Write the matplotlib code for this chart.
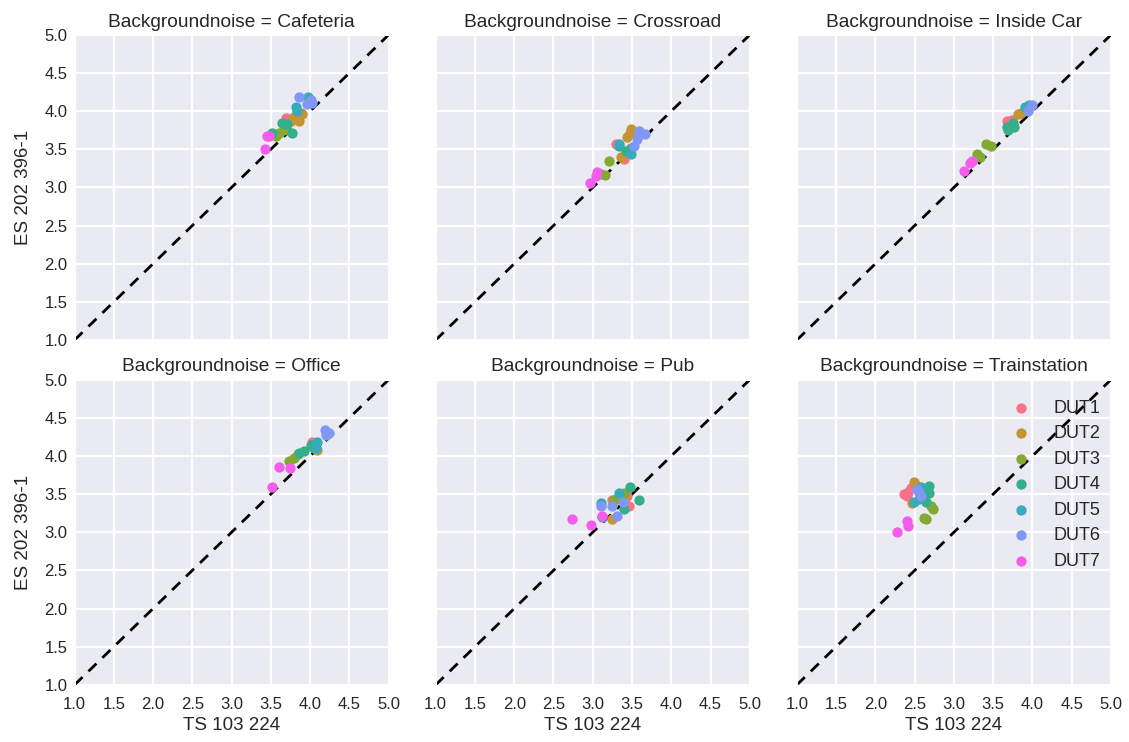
import matplotlib
matplotlib.use("Agg")
import matplotlib.pyplot as plt
import seaborn as sns

# ---- data (TS 103 224 vs ES 202 396-1) ----
noises = ["Cafeteria", "Crossroad", "Inside Car", "Office", "Pub", "Trainstation"]
duts = ["DUT1", "DUT2", "DUT3", "DUT4", "DUT5", "DUT6", "DUT7"]

cafeteria_ts = {
    "DUT1": [3.69, 3.72], "DUT2": [3.90, 3.79, 3.76, 3.86, 3.88],
    "DUT3": [3.60, 3.67, 3.56], "DUT4": [3.64, 3.71, 3.51, 3.77],
    "DUT5": [3.98, 3.82, 3.83], "DUT6": [3.86, 4.01, 3.96, 4.02],
    "DUT7": [3.45, 3.42, 3.48],
}
cafeteria_es = {
    "DUT1": [3.91, 3.86], "DUT2": [3.96, 3.93, 3.87, 3.87, 3.98],
    "DUT3": [3.72, 3.75, 3.68], "DUT4": [3.85, 3.83, 3.72, 3.71],
    "DUT5": [4.19, 4.05, 4.00], "DUT6": [4.18, 4.15, 4.09, 4.11],
    "DUT7": [3.68, 3.51, 3.68],
}
crossroad_ts = {
    "DUT1": [3.30, 3.40], "DUT2": [3.49, 3.44, 3.36, 3.47],
    "DUT3": [3.21, 3.11, 3.15], "DUT4": [3.34, 3.43, 3.49],
    "DUT5": [3.49, 3.33], "DUT6": [3.59, 3.66, 3.57, 3.53],
    "DUT7": [3.06, 3.04, 2.96],
}
crossroad_es = {
    "DUT1": [3.57, 3.37], "DUT2": [3.76, 3.66, 3.40, 3.72],
    "DUT3": [3.35, 3.18, 3.16], "DUT4": [3.54, 3.48, 3.52],
    "DUT5": [3.44, 3.57], "DUT6": [3.74, 3.70, 3.63, 3.54],
    "DUT7": [3.20, 3.15, 3.06],
}
insidecar_ts = {
    "DUT1": [3.68, 3.74], "DUT2": [3.81, 3.86],
    "DUT3": [3.29, 3.41, 3.47, 3.33], "DUT4": [3.68, 3.77, 3.75, 3.69],
    "DUT5": [3.90, 3.96], "DUT6": [3.94, 3.99],
    "DUT7": [3.13, 3.23, 3.21],
}
insidecar_es = {
    "DUT1": [3.87, 3.88], "DUT2": [3.96, 3.98],
    "DUT3": [3.44, 3.57, 3.54, 3.40], "DUT4": [3.79, 3.79, 3.84, 3.75],
    "DUT5": [4.05, 4.08], "DUT6": [4.00, 4.08],
    "DUT7": [3.22, 3.35, 3.32],
}
office_ts = {
    "DUT1": [4.02], "DUT2": [4.09, 4.05],
    "DUT3": [3.73, 3.79, 3.84], "DUT4": [3.86, 3.92, 4.01, 4.05],
    "DUT5": [4.09, 4.07], "DUT6": [4.19, 4.24, 4.20],
    "DUT7": [3.51, 3.60, 3.74],
}
office_es = {
    "DUT1": [4.19], "DUT2": [4.08, 4.12],
    "DUT3": [3.93, 3.97, 4.02], "DUT4": [4.04, 4.06, 4.14, 4.10],
    "DUT5": [4.19, 4.10], "DUT6": [4.34, 4.30, 4.28],
    "DUT7": [3.60, 3.85, 3.84],
}
pub_ts = {
    "DUT1": [3.24, 3.44, 3.46], "DUT2": [3.24, 3.41, 3.30],
    "DUT3": [3.27, 3.40, 3.35], "DUT4": [3.47, 3.59, 3.40],
    "DUT5": [3.11, 3.12, 3.34], "DUT6": [3.10, 3.24, 3.31, 3.38],
    "DUT7": [2.74, 2.98, 3.12],
}
pub_es = {
    "DUT1": [3.42, 3.47, 3.35], "DUT2": [3.18, 3.47, 3.43],
    "DUT3": [3.42, 3.51, 3.45], "DUT4": [3.60, 3.42, 3.31],
    "DUT5": [3.38, 3.20, 3.51], "DUT6": [3.35, 3.34, 3.22, 3.40],
    "DUT7": [3.18, 3.10, 3.22],
}
train_ts = {
    "DUT1": [2.40, 2.42, 2.45, 2.37], "DUT2": [2.49, 2.46, 2.52],
    "DUT3": [2.65, 2.74, 2.62, 2.71], "DUT4": [2.68, 2.68, 2.65, 2.62],
    "DUT5": [2.49, 2.58, 2.55], "DUT6": [2.53, 2.58, 2.56],
    "DUT7": [2.28, 2.40, 2.41],
}
train_es = {
    "DUT1": [3.47, 3.53, 3.58, 3.50], "DUT2": [3.66, 3.38, 3.62],
    "DUT3": [3.17, 3.31, 3.19, 3.34], "DUT4": [3.61, 3.51, 3.40, 3.56],
    "DUT5": [3.40, 3.60, 3.43], "DUT6": [3.57, 3.48, 3.52],
    "DUT7": [3.00, 3.15, 3.08],
}

ts_data = [cafeteria_ts, crossroad_ts, insidecar_ts, office_ts, pub_ts, train_ts]
es_data = [cafeteria_es, crossroad_es, insidecar_es, office_es, pub_es, train_es]
ticks = [1.0, 1.5, 2.0, 2.5, 3.0, 3.5, 4.0, 4.5, 5.0]

sns.set_style("darkgrid")
plt.rcParams["font.family"] = ["Liberation Sans", "DejaVu Sans"]
plt.rcParams["font.size"] = 12
plt.rcParams["grid.linewidth"] = 1.6

colors = sns.color_palette("husl", len(duts))

fig, axes = plt.subplots(2, 3, figsize=(11.29, 7.42), dpi=100,
                         sharex=True, sharey=True)
fig.subplots_adjust(left=0.066, right=0.984, top=0.953, bottom=0.077,
                    wspace=0.15, hspace=0.13)

for ax, noise, tsd, esd in zip(axes.flat, noises, ts_data, es_data):
    ax.plot([1, 5], [1, 5], ls="--", color="black", lw=2, dashes=(4, 3))
    for dut, c in zip(duts, colors):
        ax.scatter(tsd[dut], esd[dut], s=55, color=c, linewidth=0, label=dut,
                   zorder=3)
    ax.set_title("Backgroundnoise = " + noise, fontsize=13.8)
    ax.set_xlim(1, 5)
    ax.set_ylim(1, 5)
    ax.set_xticks(ticks)
    ax.set_yticks(ticks)
    ax.set_xticklabels(["%.1f" % t for t in ticks])
    ax.set_yticklabels(["%.1f" % t for t in ticks])
    ax.tick_params(labelsize=12, length=0)
    ax.tick_params(axis="x", pad=9)
    ax.tick_params(axis="y", pad=5)

for ax in axes[:, 0]:
    ax.set_ylabel("ES 202 396-1", fontsize=13.5, labelpad=9)
for ax in axes[1, :]:
    ax.set_xlabel("TS 103 224", fontsize=13.5, labelpad=3)

axes[1, 2].legend(loc="upper right", bbox_to_anchor=(1.0, 0.97),
                  frameon=False, fontsize=13, handletextpad=0.8,
                  labelspacing=0.47, scatterpoints=1, borderaxespad=0.2)

fig.savefig("out.png", dpi=100)
